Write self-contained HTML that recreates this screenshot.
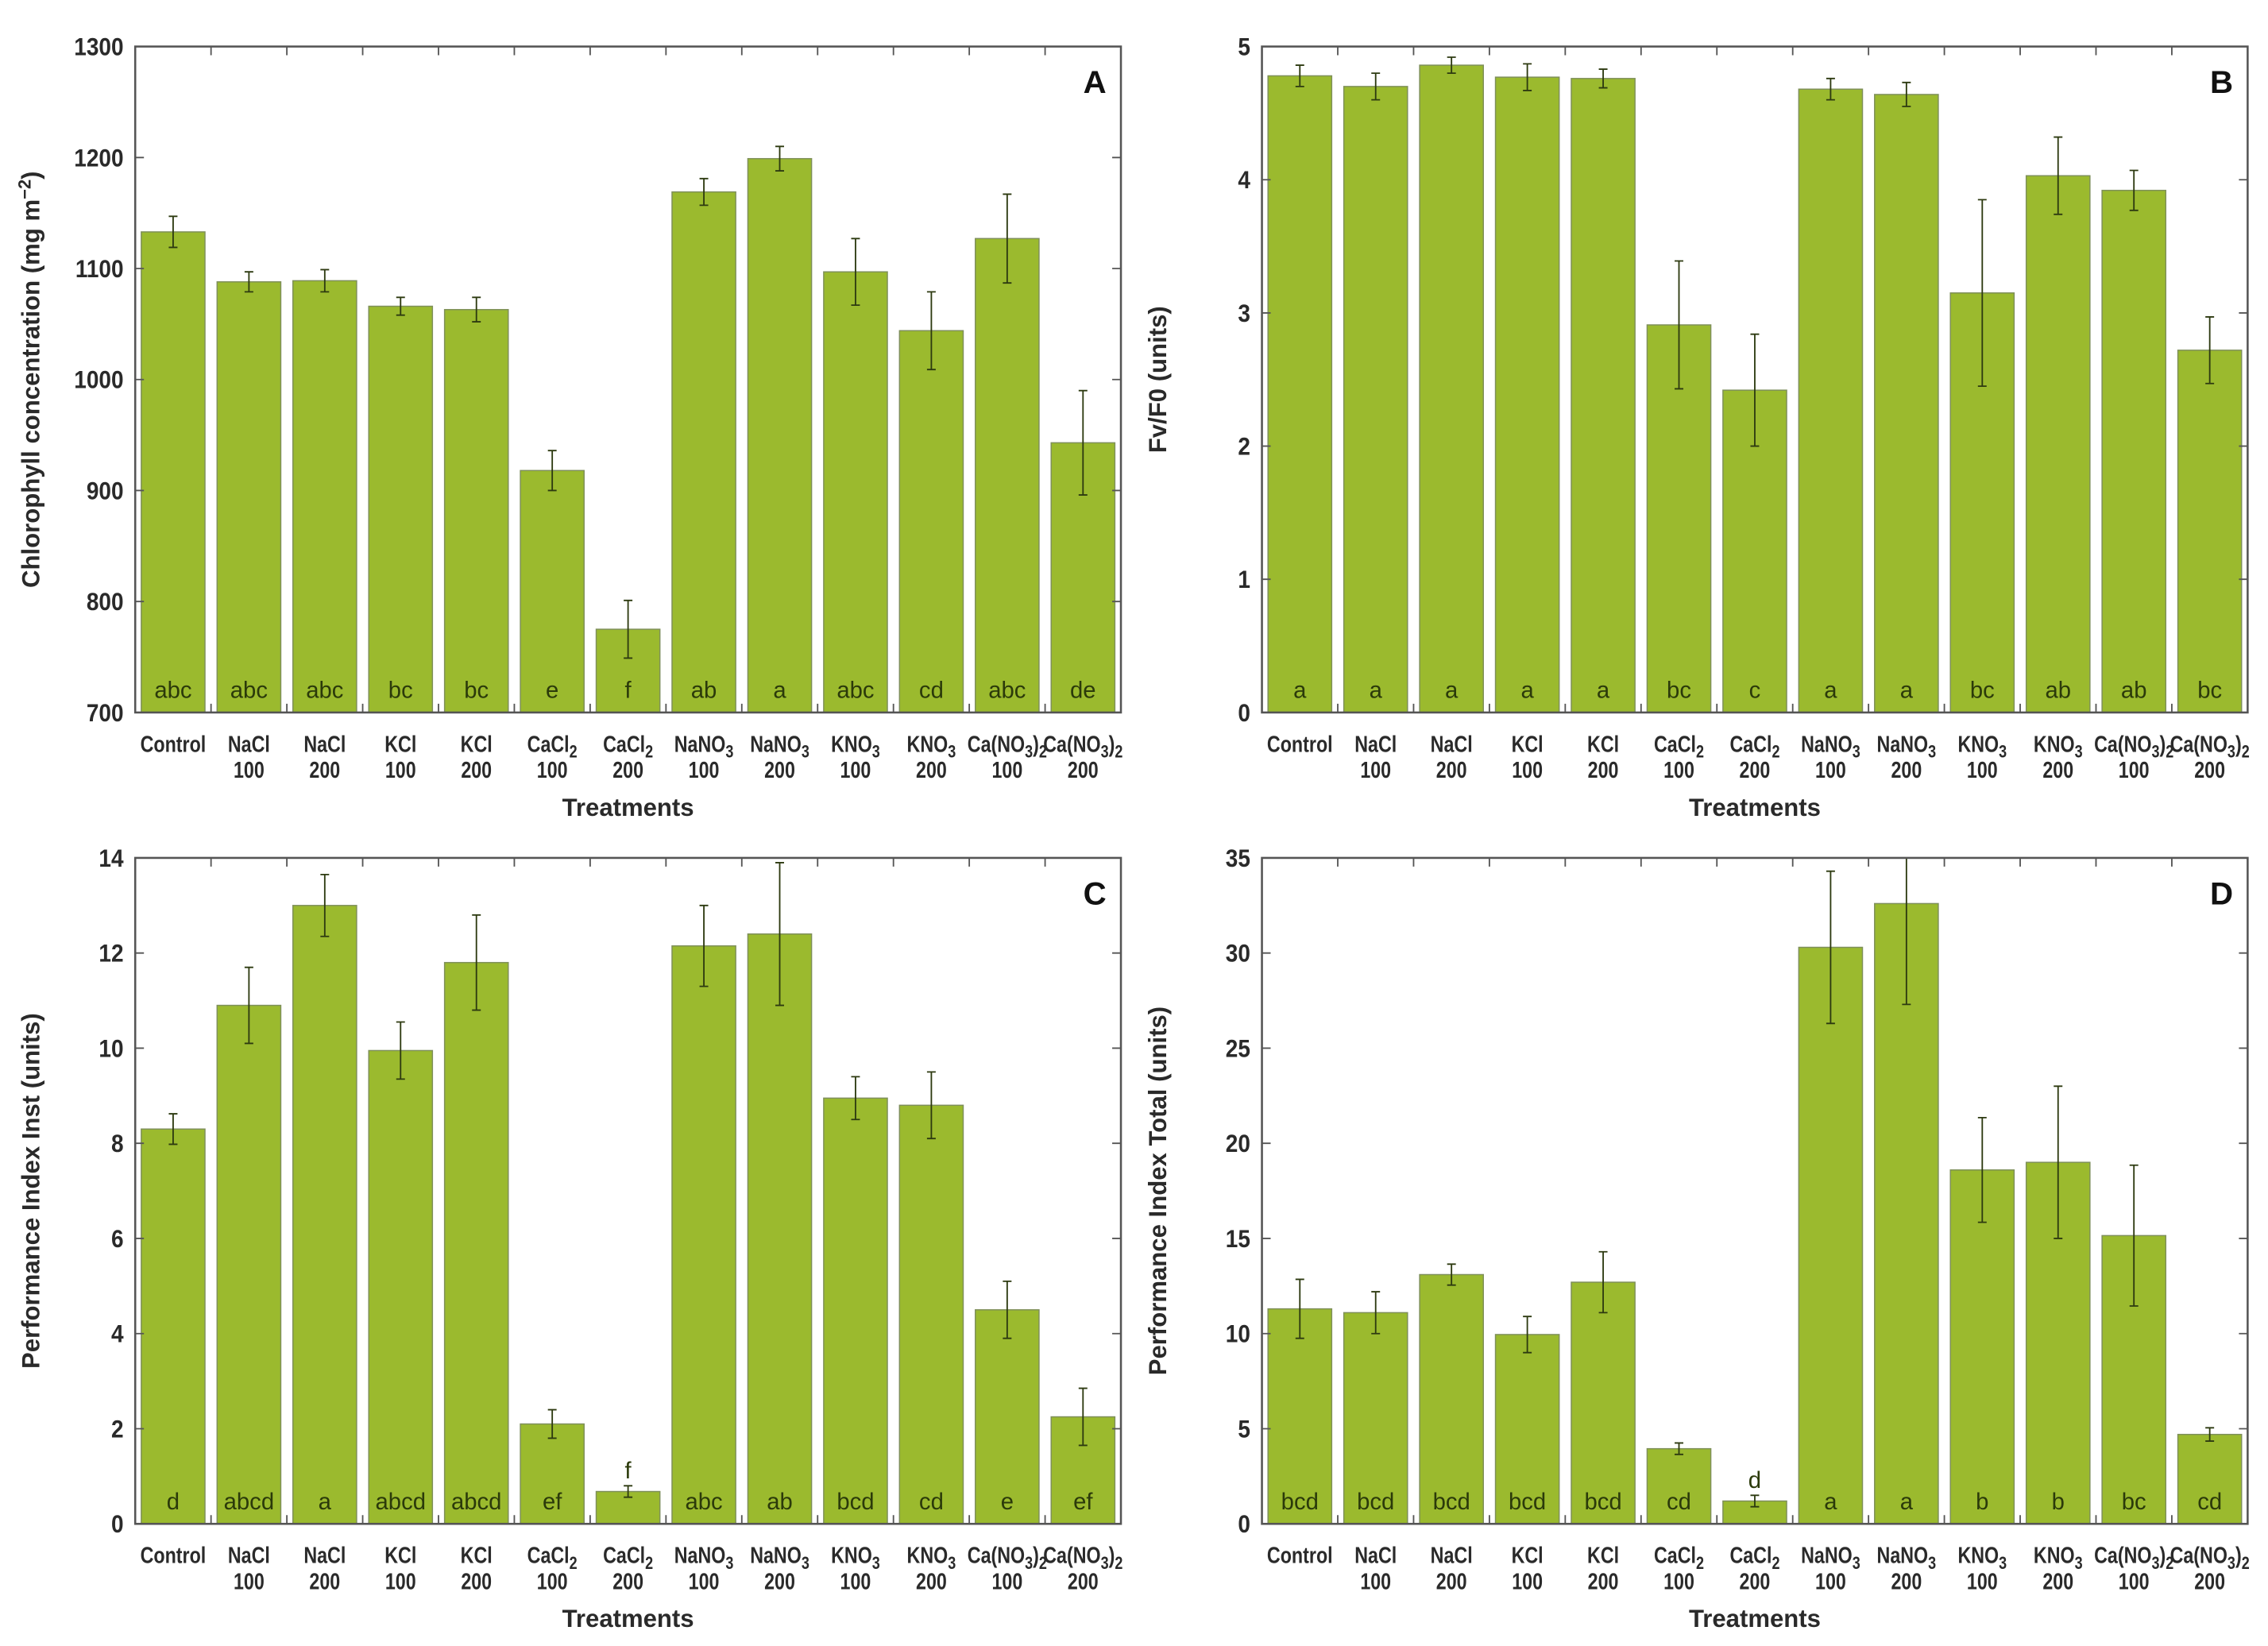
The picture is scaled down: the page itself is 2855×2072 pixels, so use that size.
<!DOCTYPE html>
<html><head><meta charset="utf-8"><style>
html,body{margin:0;padding:0;background:#fff}
svg{display:block}
text{font-family:"Liberation Sans",sans-serif}
.tick{font-size:17px;font-weight:bold;fill:#2a2a2a}
.cat{font-size:15.5px;font-weight:bold;fill:#2a2a2a}
.ttl{font-size:17px;font-weight:bold;fill:#2a2a2a}
.let{font-size:16px;fill:#2b3a0a}
.pl{font-size:22px;font-weight:bold;fill:#111}
</style></head><body>
<svg id="fig" width="2855" height="2072" viewBox="0 0 1560 1132" preserveAspectRatio="none" xmlns="http://www.w3.org/2000/svg"></svg>
<script>
const categories1=["Control","NaCl","NaCl","KCl","KCl","CaCl","CaCl","NaNO","NaNO","KNO","KNO","Ca(NO","Ca(NO"];
const categories2=["","100","200","100","200","100","200","100","200","100","200","100","200"];
const valuesA=[1133,1088,1089,1066,1063,918,775,1169,1199,1097,1044,1127,943];
const errA=[14,9,10,8,11,18,26,12,11,30,35,40,47];
const lettersA=["abc","abc","abc","bc","bc","e","f","ab","a","abc","cd","abc","de"];
const valuesB=[4.78,4.70,4.86,4.77,4.76,2.91,2.42,4.68,4.64,3.15,4.03,3.92,2.72];
const errB=[0.08,0.1,0.06,0.1,0.07,0.48,0.42,0.08,0.09,0.7,0.29,0.15,0.25];
const lettersB=["a","a","a","a","a","bc","c","a","a","bc","ab","ab","bc"];
const valuesC=[8.3,10.9,13.0,9.95,11.8,2.1,0.68,12.15,12.4,8.95,8.8,4.5,2.25];
const errC=[0.32,0.8,0.65,0.6,1.0,0.3,0.12,0.85,1.5,0.45,0.7,0.6,0.6];
const lettersC=["d","abcd","a","abcd","abcd","ef","f","abc","ab","bcd","cd","e","ef"];
const valuesD=[11.3,11.1,13.1,9.95,12.7,3.95,1.2,30.3,32.6,18.6,19.0,15.15,4.7];
const errD=[1.55,1.1,0.55,0.95,1.6,0.3,0.3,4.0,5.3,2.75,4.0,3.7,0.35];
const lettersD=["bcd","bcd","bcd","bcd","bcd","cd","d","a","a","b","b","bc","cd"];
const ticksA=[700,800,900,1000,1100,1200,1300];
const ticksB=[0,1,2,3,4,5];
const ticksC=[0,2,4,6,8,10,12,14];
const ticksD=[0,5,10,15,20,25,30,35];

const NS="http://www.w3.org/2000/svg";
const svg=document.getElementById('fig');
function mk(tag,attrs,parent,txt){const e=document.createElementNS(NS,tag);for(const k in attrs)e.setAttribute(k,attrs[k]);if(txt!==undefined)e.textContent=txt;(parent||svg).appendChild(e);return e;}

function panel(id,x0,y0,vals,errs,lets,ticks,ymin,ymax,ylabel,letterAbove){
  const W=678,H=458,x1=x0+W,y1=y0+H,n=vals.length,step=W/n,bw=step*0.84;
  const g=mk('g',{});
  
  
  const ys=v=>y1-(Math.min(Math.max(v,ymin),ymax)-ymin)/(ymax-ymin)*H;
  const xc=i=>x0+step*(i+0.5);
  vals.forEach((v,i)=>{
    const b=mk('rect',{x:xc(i)-bw/2,y:ys(v),width:bw,height:y1-ys(v),fill:'#9bba2e',stroke:'#7e8f5a','stroke-width':0.8},g);
    
    
    const lo=ys(v-errs[i]),hi=ys(v+errs[i]);
    const eb=mk('path',{d:`M${xc(i)},${lo}V${hi}M${xc(i)-3},${lo}h6M${xc(i)-3},${hi}h6`,stroke:'#2d3a10','stroke-width':1,fill:'none'},g);
    
    
    const above=letterAbove===i;
    const ly=above?ys(v+errs[i])-5:y1-10;
    const t=mk('text',{x:xc(i),y:ly,'text-anchor':'middle',class:'let'},g,lets[i]);
    
    
  });
  const fr=mk('rect',{x:x0,y:y0,width:W,height:H,fill:'none',stroke:'#555','stroke-width':1.4},g);
  
  
  for(let i=1;i<n;i++){const xx=x0+step*i;mk('path',{d:`M${xx},${y0}v6M${xx},${y1}v-6`,stroke:'#555','stroke-width':1},g);}
  ticks.forEach(t=>{const yy=ys(t);
    mk('path',{d:`M${x0},${yy}h6M${x1},${yy}h-6`,stroke:'#555','stroke-width':1},g);
    const tl=mk('text',{x:x0-8,y:yy+6,'text-anchor':'end',class:'tick',transform:`translate(${x0-8},0) scale(0.9,1) translate(${-(x0-8)},0)`},g,t);
    
    
  });
  categories1.forEach((c,i)=>{
    const cx=xc(i);
    const t=mk('text',{x:cx,y:y1+27,'text-anchor':'middle',class:'cat',transform:`translate(${cx},0) scale(0.82,1) translate(${-cx},0)`},g);
    
    
    t.appendChild(document.createTextNode(c));
    if(c==='CaCl'){mk('tspan',{'font-size':'12',dy:'4'},t,'2');}
    else if(c==='NaNO'||c==='KNO'){mk('tspan',{'font-size':'12',dy:'4'},t,'3');}
    else if(c==='Ca(NO'){mk('tspan',{'font-size':'12',dy:'4'},t,'3');mk('tspan',{dy:'-4'},t,')');mk('tspan',{'font-size':'12',dy:'4'},t,'2');}
    if(categories2[i]){const t2=mk('text',{x:cx,y:y1+45,'text-anchor':'middle',class:'cat',transform:`translate(${cx},0) scale(0.82,1) translate(${-cx},0)`},g,categories2[i]);
      
      }
  });
  const xt=mk('text',{x:x0+W/2,y:y1+71,'text-anchor':'middle',class:'ttl'},g,'Treatments');
  
  
  const yt=mk('text',{x:0,y:0,'text-anchor':'middle',class:'ttl',transform:`translate(${x0-66},${y0+H/2}) rotate(-90)`},g);
  
  
  if(ylabel==='chl'){yt.appendChild(document.createTextNode('Chlorophyll concentration (mg m'));mk('tspan',{'font-size':'12',dy:'-6'},yt,'−2');mk('tspan',{dy:'6'},yt,')');}
  else yt.textContent=ylabel;
  const pl=mk('text',{x:x1-10,y:y0+32,'text-anchor':'end',class:'pl'},g,id);
  
  
}
panel('A',93,32,valuesA,errA,lettersA,ticksA,700,1300,'chl',-1);
panel('B',868,32,valuesB,errB,lettersB,ticksB,0,5,'Fv/F0 (units)',-1);
panel('C',93,590,valuesC,errC,lettersC,ticksC,0,14,'Performance Index Inst (units)',6);
panel('D',868,590,valuesD,errD,lettersD,ticksD,0,35,'Performance Index Total (units)',6);
</script>
</body></html>
